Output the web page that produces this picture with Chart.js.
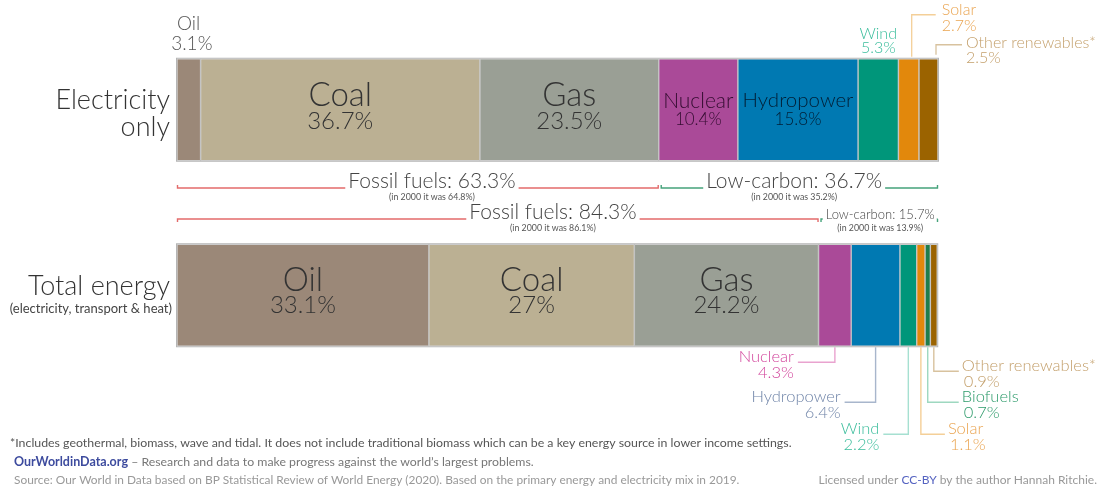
<!DOCTYPE html>
<html lang="en">
<head>
<meta charset="UTF-8">
<title>Energy mix 2019</title>
<script src="https://cdn.jsdelivr.net/npm/chart.js"></script>
<style>
  html, body { margin: 0; padding: 0; background: #fff; }
  #wrap { position: relative; width: 1101px; height: 488px; }
</style>
</head>
<body>
<div id="wrap"><canvas id="mix"></canvas></div>
<script>
// data (shares of 2019 mix, %)
const rows = ['Electricity only', 'Total energy'];
const sources = ['Oil', 'Coal', 'Gas', 'Nuclear', 'Hydropower', 'Wind', 'Solar', 'Biofuels', 'Other renewables*'];
const electricity = [3.1, 36.7, 23.5, 10.4, 15.8, 5.3, 2.7, 0, 2.5];
const totalEnergy = [33.1, 27, 24.2, 4.3, 6.4, 2.2, 1.1, 0.7, 0.9];
const fossilShare = [63.3, 84.3];
const fossil2000 = [64.8, 86.1];
const lowCarbonShare = [36.7, 15.7];
const lowCarbon2000 = [35.2, 13.9];
const axisRange = [0, 100];

const fills = ['#9b8878', '#bbb093', '#9a9f95', '#aa4a98', '#0079b2', '#00967a', '#e2880c', '#1f7d4c', '#9b6300'];
const textCols = ['#555', '#555', '#555', '#d2459c', '#6f84a8', '#3bbd9c', '#eaa552', '#2e9b6b', '#c4a06c'];
const leadCols = ['#ccc', '#ccc', '#ccc', '#e9a3cf', '#a8b6cc', '#a6e0d1', '#f4cf98', '#9ed8c0', '#d8c29e'];

const FONT = 'Lato, "Open Sans", sans-serif';

function txt(ctx, s, x, y, size, color, align, weight) {
  ctx.font = (weight || '300') + ' ' + size + 'px ' + FONT;
  ctx.fillStyle = color;
  ctx.textAlign = align || 'center';
  ctx.textBaseline = 'middle';
  ctx.fillText(s, x, y);
  return ctx.measureText(s).width;
}

function line(ctx, pts, color, w) {
  ctx.beginPath();
  ctx.moveTo(pts[0][0], pts[0][1]);
  for (let i = 1; i < pts.length; i++) ctx.lineTo(pts[i][0], pts[i][1]);
  ctx.strokeStyle = color;
  ctx.lineWidth = w || 1;
  ctx.stroke();
}

// bracket with a gap for the label; dir = -1 ticks up, +1 ticks down
function bracket(ctx, x0, x1, y, dir, color, label, sub, cx, size) {
  ctx.font = '300 ' + size + 'px ' + FONT;
  const w = ctx.measureText(label).width;
  const g0 = cx - w / 2 - 3, g1 = cx + w / 2 + 3;
  ctx.save();
  ctx.lineWidth = 1.4;
  ctx.strokeStyle = color;
  ctx.beginPath();
  ctx.moveTo(x0 + 0.5, y + dir * 3);
  ctx.lineTo(x0 + 0.5, y);
  ctx.lineTo(Math.max(x0, g0), y);
  ctx.moveTo(Math.min(x1, g1), y);
  ctx.lineTo(x1 - 0.5, y);
  ctx.lineTo(x1 - 0.5, y + dir * 3);
  ctx.stroke();
  ctx.restore();
  txt(ctx, label, cx, y - size * 0.33, size, '#444');
  txt(ctx, sub, cx, y + 9, 8.8, '#555', 'center', '400');
}

const annotate = {
  id: 'annotate',
  afterDatasetsDraw(chart) {
    const ctx = chart.ctx;
    const xs = chart.scales.x;
    const el = (ds, r) => chart.getDatasetMeta(ds).data[r];
    const mid = (ds, r) => { const e = el(ds, r); return (e.x + e.base) / 2; };
    ctx.save();

    // outline round each bar
    rows.forEach((r, i) => {
      const a = el(0, i), b = el(sources.length - 1, i);
      ctx.strokeStyle = '#b5b5b5';
      ctx.lineWidth = 1;
      ctx.strokeRect(a.base - 0.5, a.y - a.height / 2 - 0.5, b.x - a.base + 1, a.height + 1);
    });

    // row titles
    const e0 = el(0, 0), e1 = el(0, 1);
    txt(ctx, 'Electricity', 170, e0.y - 9, 27, '#333', 'right');
    txt(ctx, 'only', 170, e0.y + 18, 27, '#333', 'right');
    txt(ctx, 'Total energy', 170, e1.y - 9, 27, '#333', 'right');
    txt(ctx, '(electricity, transport & heat)', 172, e1.y + 14, 13, '#444', 'right', '400');

    // labels inside segments
    const inner = (ds, r, big, small, dy, dy2, col) => {
      const e = el(ds, r);
      txt(ctx, sources[ds], mid(ds, r), e.y - dy, big, col || '#333');
      const v = r === 0 ? electricity[ds] : totalEnergy[ds];
      txt(ctx, v + '%', mid(ds, r), e.y + dy2, small, col || '#333');
    };
    inner(1, 0, 33, 24, 14, 12);
    inner(2, 0, 33, 24, 14, 12);
    inner(3, 0, 21, 17, 9, 10, 'rgba(30,0,30,0.85)');
    inner(4, 0, 20.5, 17, 9, 10, 'rgba(0,20,40,0.9)');
    inner(0, 1, 33, 24, 15, 10);
    inner(1, 1, 33, 24, 15, 10);
    inner(2, 1, 33, 24, 15, 10);

    // small electricity segments: labels above
    const top0 = e0.y - e0.height / 2;
    txt(ctx, 'Oil', 177, top0 - 35, 19, '#555', 'left');
    txt(ctx, electricity[0] + '%', mid(0, 0) + 3, top0 - 15, 19, '#555');
    txt(ctx, 'Wind', mid(5, 0), top0 - 25, 16, textCols[5]);
    txt(ctx, electricity[5] + '%', mid(5, 0), top0 - 11, 16, textCols[5]);
    const sx = mid(6, 0) + 3;
    line(ctx, [[sx, top0 - 2], [sx, top0 - 44], [sx + 24, top0 - 44]], leadCols[6], 1.3);
    txt(ctx, 'Solar', sx + 30, top0 - 49, 16, textCols[6], 'left');
    txt(ctx, electricity[6] + '%', sx + 30, top0 - 33, 16, textCols[6], 'left');
    const ox = el(8, 0).x - 2;
    line(ctx, [[ox, top0 - 4], [ox, top0 - 14], [ox + 26, top0 - 14]], leadCols[8], 1.3);
    txt(ctx, 'Other renewables*', ox + 30, top0 - 16, 16, textCols[8], 'left');
    txt(ctx, electricity[8] + '%', ox + 30, top0 - 1, 16, textCols[8], 'left');

    // brackets
    const xl = el(0, 0).base, xr = el(8, 0).x;
    bracket(ctx, xl, el(2, 0).x, 188, -1, '#e36b6b', 'Fossil fuels: ' + fossilShare[0] + '%',
      '(in 2000 it was ' + fossil2000[0] + '%)', xs.getPixelForValue(33.5), 21);
    bracket(ctx, el(3, 0).base + 2, xr, 188, -1, '#45a37b', 'Low-carbon: ' + lowCarbonShare[0] + '%',
      '(in 2000 it was ' + lowCarbon2000[0] + '%)', xs.getPixelForValue(81.1), 21);
    bracket(ctx, xl, el(2, 1).x, 219, 1, '#e36b6b', 'Fossil fuels: ' + fossilShare[1] + '%',
      '(in 2000 it was ' + fossil2000[1] + '%)', xs.getPixelForValue(49.4), 21);
    bracket(ctx, el(3, 1).base + 2, xr, 219, 1, '#45a37b', 'Low-carbon: ' + lowCarbonShare[1] + '%',
      '(in 2000 it was ' + lowCarbon2000[1] + '%)', xs.getPixelForValue(92.4), 13);

    // total energy: leader labels below
    const bot = e1.y + e1.height / 2;
    const below = (ds, drop, len) => {
      const x = mid(ds, 1), y = bot + drop, x2 = x + len;
      line(ctx, [[x, bot + 1], [x, y], [x2, y]], leadCols[ds], 1.4);
      const right = len < 0;
      const tx = right ? x2 - 4 : x2 + 3;
      txt(ctx, sources[ds], tx, y - 6, 16.5, textCols[ds], right ? 'right' : 'left');
      txt(ctx, totalEnergy[ds] + '%', right ? tx : tx + 2, y + 10, 16.5, textCols[ds], right ? 'right' : 'left');
    };
    below(3, 16, -37);
    below(4, 56, -31);
    below(5, 88, -25);
    below(6, 88, 24);
    below(7, 56, 31);
    below(8, 25, 25);

    // footer
    txt(ctx, '*Includes geothermal, biomass, wave and tidal. It does not include traditional biomass which can be a key energy source in lower income settings.', 10, 443, 12.35, '#555', 'left', '400');
    const w = txt(ctx, 'OurWorldinData.org', 14, 462, 12.5, '#3d4b9e', 'left', '700');
    txt(ctx, ' \u2013 Research and data to make progress against the world\u2019s largest problems.', 14 + w, 462, 12.3, '#777', 'left', '400');
    txt(ctx, 'Source: Our World in Data based on BP Statistical Review of World Energy (2020). Based on the primary energy and electricity mix in 2019.', 14, 480, 11.9, '#999', 'left', '400');
    ctx.font = '400 12px ' + FONT;
    const tail = ' by the author Hannah Ritchie.';
    const wt = ctx.measureText(tail).width, wc = ctx.measureText('CC-BY').width;
    txt(ctx, tail, 1097 - wt, 480, 12, '#999', 'left', '400');
    txt(ctx, 'CC-BY', 1097 - wt - wc, 480, 12, '#5563c1', 'left', '400');
    txt(ctx, 'Licensed under ', 1097 - wt - wc, 480, 12, '#999', 'right', '400');
    ctx.restore();
  }
};

new Chart(document.getElementById('mix'), {
  type: 'bar',
  data: {
    labels: rows,
    datasets: sources.map((s, i) => ({
      label: s,
      data: [electricity[i], totalEnergy[i]],
      backgroundColor: fills[i],
      borderColor: 'rgba(0,0,0,0.18)',
      borderWidth: 1,
      borderSkipped: false,
      barThickness: 102
    }))
  },
  options: {
    indexAxis: 'y',
    responsive: true,
    maintainAspectRatio: false,
    animation: false,
    layout: { padding: { left: 177, right: 163, top: 17, bottom: 100 } },
    plugins: { legend: { display: false }, tooltip: { enabled: false } },
    scales: {
      x: { stacked: true, min: axisRange[0], max: axisRange[1], display: false },
      y: { stacked: true, display: false }
    }
  },
  plugins: [annotate]
});
</script>
</body>
</html>
